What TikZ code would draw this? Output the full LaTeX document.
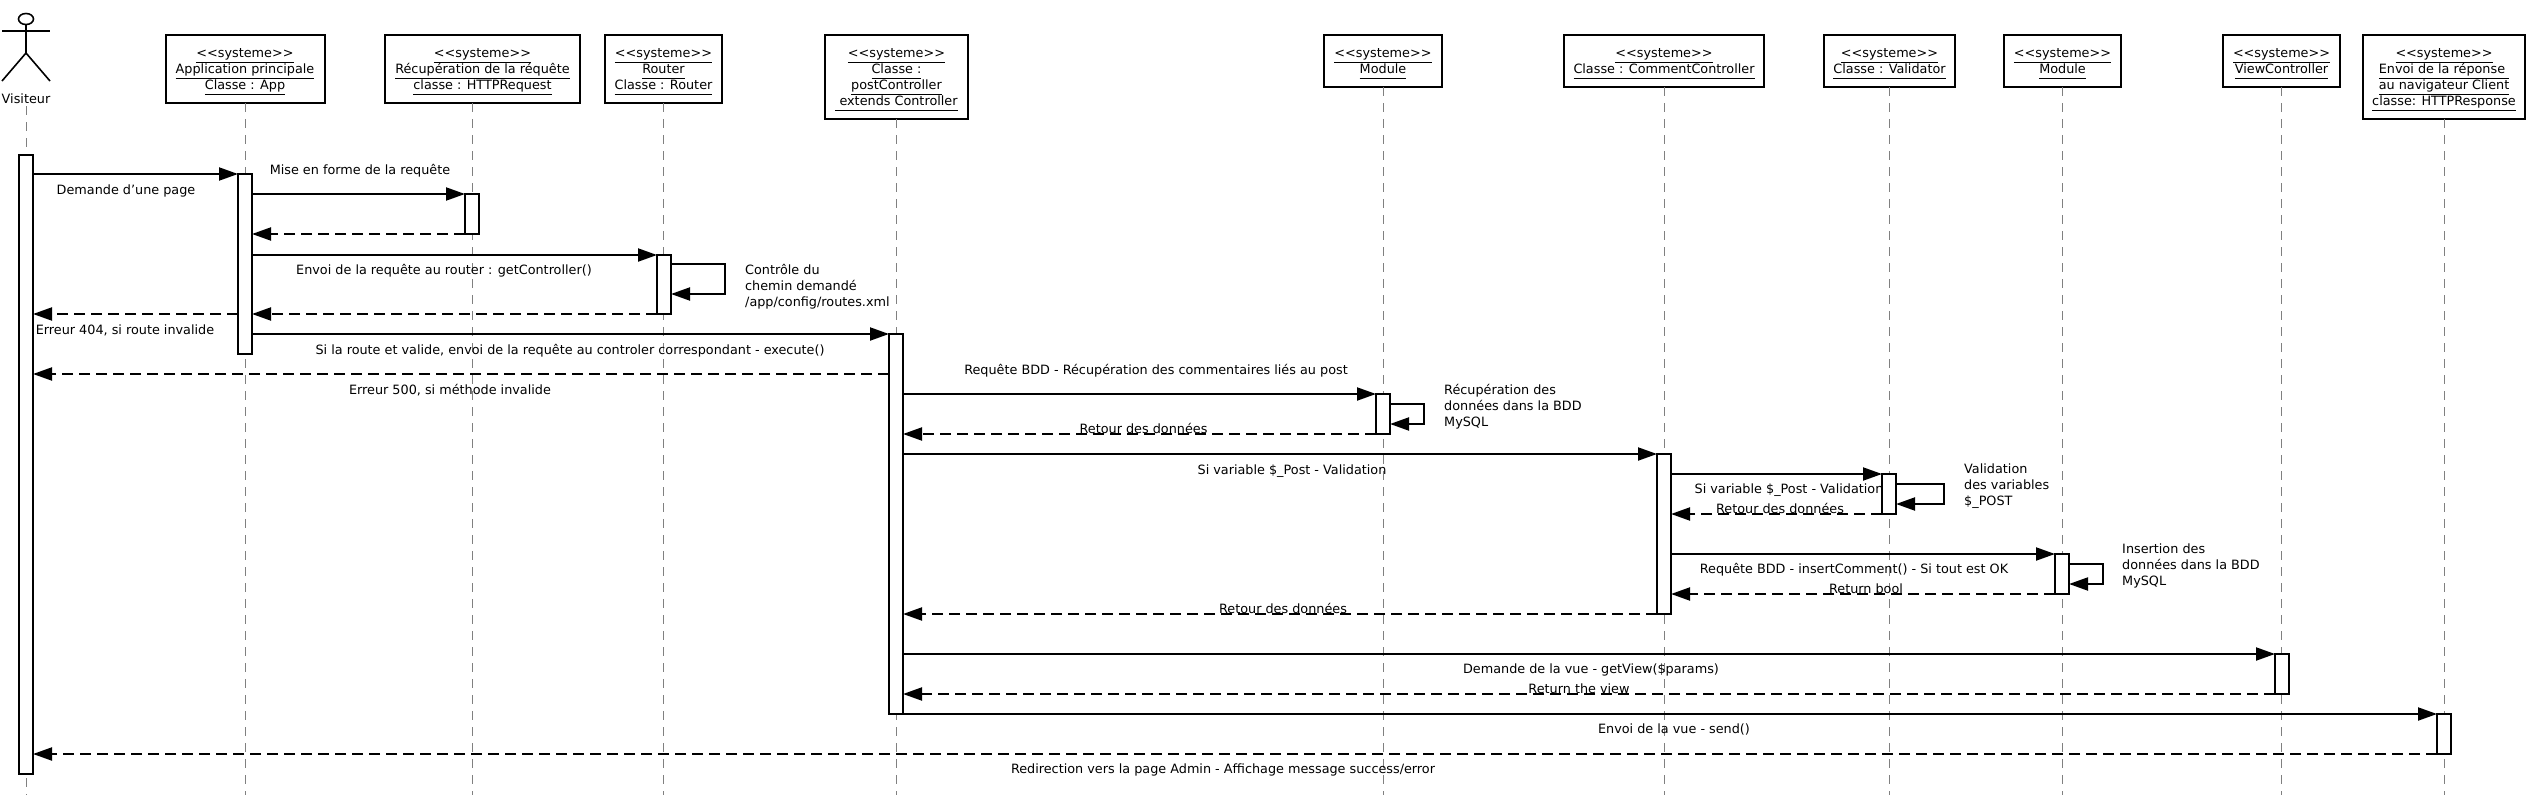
\documentclass[tikz,border=0pt]{standalone}
\usepackage{fontspec}
\setmainfont{DejaVu Sans}
\usetikzlibrary{arrows.meta}
\newcommand{\syst}[1]{\underline{\smash{#1}\vphantom{p}}}
\newcommand{\stereo}{\rule{0pt}{14pt}\syst{<{}<systeme>{}>}}
\tikzset{
    classbox/.style={draw=black,fill=white,line width=2pt,anchor=north,align=center,inner sep=0pt,outer sep=0pt,minimum height=68pt},
    actbar/.style={draw=black,fill=white,line width=2pt,anchor=north,inner sep=0pt,outer sep=0pt,minimum width=14pt},
    lifeline/.style={draw=black!50,line width=1pt,dash pattern=on 9pt off 7pt},
    call/.style={draw=black,line width=2pt,-{Triangle[length=19pt,width=13pt]}},
    answer/.style={call,dash pattern=on 11pt off 6pt},
    msglabel/.style={inner sep=0pt,text height=9.5pt,text depth=2.5pt},
    notelabel/.style={inner sep=0pt,anchor=west,align=left},
}

\begin{document}
\begin{tikzpicture}[x=1pt,y=-1pt,font=\fontsize{12.8}{16}\selectfont]
  \useasboundingbox (0,0) rectangle (2530,795);
  \coordinate (bottom) at (0,795);
  \coordinate (requestline) at (472,0);

  % Actor
  \draw[line width=1.6pt] (26,19) ellipse [x radius=7.5,y radius=5.5];
  \draw[line width=1.6pt] (26,24.5) -- (26,53) -- (2,81);
  \draw[line width=1.6pt] (26,53) -- (50,81);
  \draw[line width=1.6pt] (2,31) -- (50,31);
  \node[msglabel] (visiteur) at (26,100) {Visiteur};

  % Classes
  \node[classbox,minimum width=159pt] (app) at (245,35) {\stereo\\\syst{Application principale}\\\syst{Classe : App}};
  \node[classbox,minimum width=195pt] (request) at (482.5,35) {\stereo\\\syst{Récupération de la réquête}\\\syst{classe : HTTPRequest}};
  \node[classbox,minimum width=117pt] (router) at (663.5,35) {\stereo\\\syst{Router}\\\syst{Classe : Router}};
  \node[classbox,minimum width=143pt,minimum height=84pt] (post) at (896.5,35) {\stereo\\\syst{Classe :}\\\syst{postController}\\\syst{~extends Controller}};
  \node[classbox,minimum width=118pt,minimum height=52pt] (module) at (1383,35) {\stereo\\\syst{Module}};
  \node[classbox,minimum width=200pt,minimum height=52pt] (comment) at (1664,35) {\stereo\\\syst{Classe : CommentController}};
  \node[classbox,minimum width=131pt,minimum height=52pt] (validator) at (1889.5,35) {\stereo\\\syst{Classe : Validator}};
  \node[classbox,minimum width=117pt,minimum height=52pt] (insert) at (2062.5,35) {\stereo\\\syst{Module}};
  \node[classbox,minimum width=117pt,minimum height=52pt] (view) at (2281.5,35) {\stereo\\\syst{ViewController}};
  \node[classbox,minimum width=162pt,minimum height=84pt] (response) at (2444,35) {\stereo\\\syst{Envoi de la réponse~}\\\syst{au navigateur Client}\\\syst{classe: HTTPResponse}};

  % Lifelines
  \draw[lifeline] (visiteur.south) -- (visiteur.south |- bottom);
  \draw[lifeline] (app.south) -- (app.south |- bottom);
  \draw[lifeline] (requestline |- request.south) -- (requestline |- bottom);
  \draw[lifeline] (router.south) -- (router.south |- bottom);
  \draw[lifeline] (post.south) -- (post.south |- bottom);
  \draw[lifeline] (module.south) -- (module.south |- bottom);
  \draw[lifeline] (comment.south) -- (comment.south |- bottom);
  \draw[lifeline] (validator.south) -- (validator.south |- bottom);
  \draw[lifeline] (insert.south) -- (insert.south |- bottom);
  \draw[lifeline] (view.south) -- (view.south |- bottom);
  \draw[lifeline] (response.south) -- (response.south |- bottom);

  % Activation bars
  \node[actbar,minimum height=619pt] (visbar) at (26,155) {};
  \node[actbar,minimum height=180pt] (appbar) at (245,174) {};
  \node[actbar,minimum height=40pt] (requestbar) at (472,194) {};
  \node[actbar,minimum height=59pt] (routerbar) at (664,255) {};
  \node[actbar,minimum height=380pt] (postbar) at (896,334) {};
  \node[actbar,minimum height=40pt] (modulebar) at (1383,394) {};
  \node[actbar,minimum height=160pt] (commentbar) at (1664,454) {};
  \node[actbar,minimum height=40pt] (validatorbar) at (1889,474) {};
  \node[actbar,minimum height=40pt] (insertbar) at (2062,554) {};
  \node[actbar,minimum height=40pt] (viewbar) at (2282,654) {};
  \node[actbar,minimum height=40pt] (responsebar) at (2444,714) {};

  % App <-> Request / Router
  \draw[call] (visbar.east |- appbar.north) -- (appbar.north west);
  \draw[call] (appbar.east |- requestbar.north) -- (requestbar.north west);
  \draw[answer] (requestbar.south west) -- (appbar.east |- requestbar.south);
  \draw[call] (appbar.east |- routerbar.north) -- (routerbar.north west);
  \draw[answer] (routerbar.south west) -- (appbar.east |- routerbar.south);
  \draw[answer] (appbar.west |- routerbar.south) -- (visbar.east |- routerbar.south);

  % Controller
  \coordinate (err500) at (0,374);
  \draw[call] (appbar.east |- postbar.north) -- (postbar.north west);
  \draw[answer] (postbar.west |- err500) -- (visbar.east |- err500);

  % Comments
  \draw[call] (postbar.east |- modulebar.north) -- (modulebar.north west);
  \draw[answer] (modulebar.south west) -- (postbar.east |- modulebar.south);
  \draw[call] (postbar.east |- commentbar.north) -- (commentbar.north west);
  \draw[call] (commentbar.east |- validatorbar.north) -- (validatorbar.north west);
  \draw[answer] (validatorbar.south west) -- (commentbar.east |- validatorbar.south);
  \draw[call] (commentbar.east |- insertbar.north) -- (insertbar.north west);
  \draw[answer] (insertbar.south west) -- (commentbar.east |- insertbar.south);
  \draw[answer] (commentbar.south west) -- (postbar.east |- commentbar.south);

  % View and response
  \draw[call] (postbar.east |- viewbar.north) -- (viewbar.north west);
  \draw[answer] (viewbar.south west) -- (postbar.east |- viewbar.south);
  \draw[call] (postbar.east |- responsebar.north) -- (responsebar.north west);
  \draw[answer] (responsebar.south west) -- (visbar.east |- responsebar.south);

  % Self calls
  \draw[call] ([yshift=-9pt]routerbar.north east) -- ++(54,0) -- ++(0,30) -- ++(-54,0);
  \draw[call] ([yshift=-10pt]modulebar.north east) -- ++(34,0) -- ++(0,20) -- ++(-34,0);
  \draw[call] ([yshift=-10pt]validatorbar.north east) -- ++(48,0) -- ++(0,20) -- ++(-48,0);
  \draw[call] ([yshift=-10pt]insertbar.north east) -- ++(34,0) -- ++(0,20) -- ++(-34,0);

  % Labeling
  \node[msglabel] (l1) at (126,191) {Demande d'une page};
  \node[msglabel] (l2) at (360,171) {Mise en forme de la requête};
  \node[msglabel] (l3) at (444,271) {Envoi de la requête au router : getController()};
  \node[msglabel] (l4) at (125,331) {Erreur 404, si route invalide};
  \node[msglabel] (l5) at (570,351) {Si la route et valide, envoi de la requête au controler correspondant - execute()};
  \node[msglabel] (l6) at (450,391) {Erreur 500, si méthode invalide};
  \node[msglabel] (l7) at (1156,371) {Requête BDD - Récupération des commentaires liés au post};
  \node[msglabel] (l8) at (1143.5,430) {Retour des données};
  \node[msglabel] (l9) at (1292,471) {Si variable \$\_Post - Validation};
  \node[msglabel] (l10) at (1789,490) {Si variable \$\_Post - Validation};
  \node[msglabel] (l11) at (1780,510) {Retour des données};
  \node[msglabel] (l12) at (1854,570) {Requête BDD - insertComment() - Si tout est OK};
  \node[msglabel] (l13) at (1866,590) {Return bool};
  \node[msglabel] (l14) at (1283,610) {Retour des données};
  \node[msglabel] (l15) at (1591,670) {Demande de la vue - getView(\$params)};
  \node[msglabel] (l16) at (1579,690) {Return the view};
  \node[msglabel] (l17) at (1674,730) {Envoi de la vue - send()};
  \node[msglabel] (l18) at (1223,770) {Redirection vers la page Admin - Affichage message success/error};

  % Notes
  \node[notelabel] (n1) at (745,287) {Contrôle du\\chemin demandé\\/app/config/routes.xml};
  \node[notelabel] (n2) at (1444,407) {Récupération des\\données dans la BDD\\MySQL};
  \node[notelabel] (n3) at (1964,486) {Validation\\des variables\\\$\_POST};
  \node[notelabel] (n4) at (2122,566) {Insertion des\\données dans la BDD\\MySQL};
\end{tikzpicture}
\end{document}
